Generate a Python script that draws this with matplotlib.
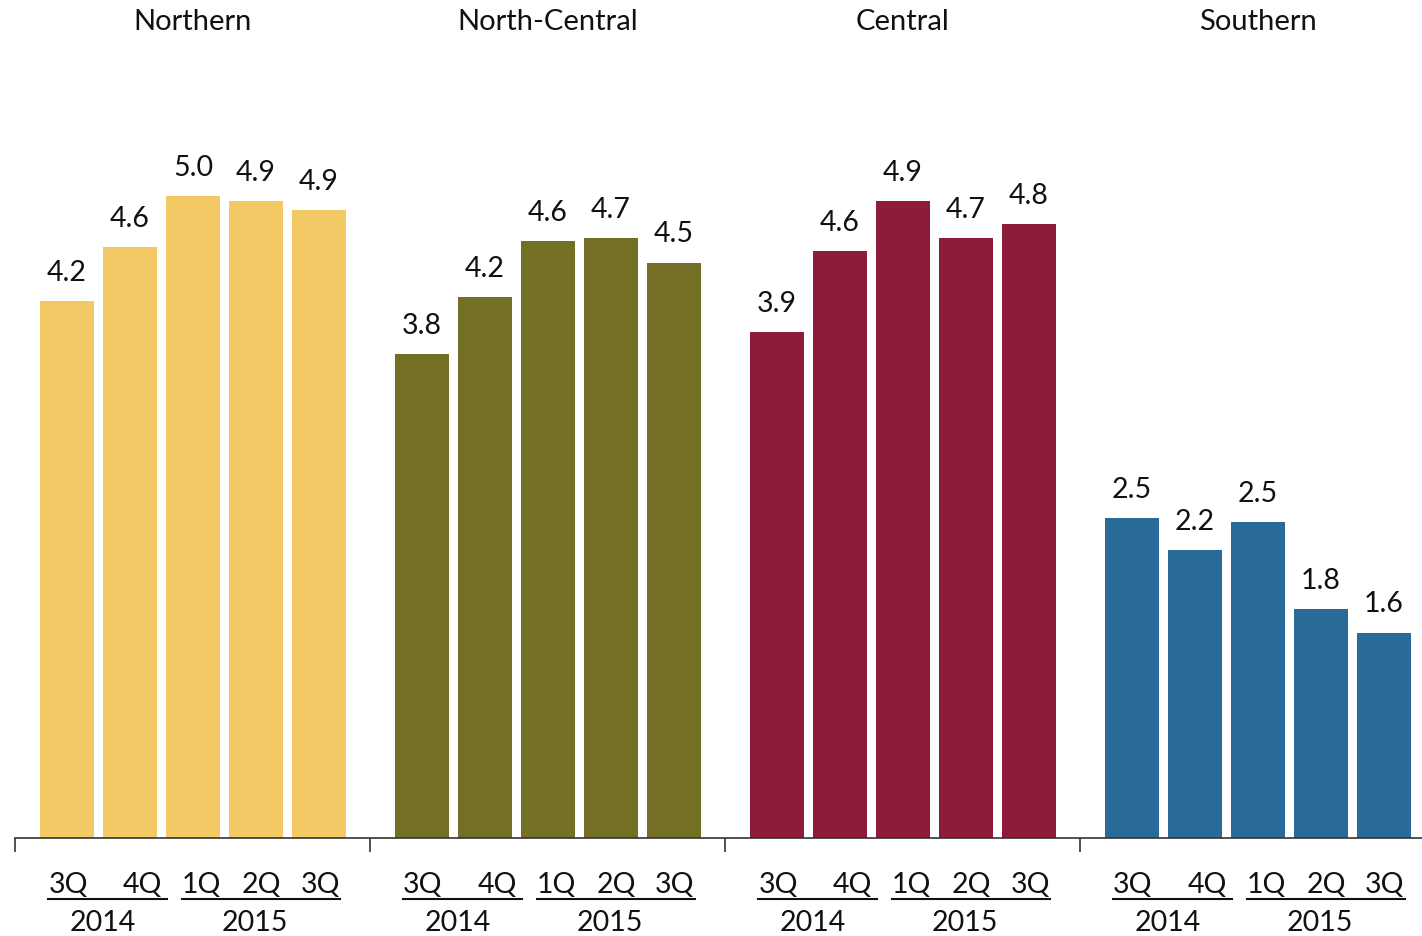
import numpy as np
import matplotlib.pyplot as plt

plt.rcParams['font.family'] = ['Lato', 'DejaVu Sans']

regions = ["Northern", "North-Central", "Central", "Southern"]
quarters = ["3Q", "4Q", "1Q", "2Q", "3Q"]
years = ["2014", "2015"]
# bar heights, with the printed labels
values = [
    [4.18, 4.60, 5.00, 4.96, 4.89],
    [3.77, 4.21, 4.65, 4.67, 4.48],
    [3.94, 4.57, 4.96, 4.67, 4.78],
    [2.49, 2.24, 2.46, 1.78, 1.60],
]
labels = [
    ["4.2", "4.6", "5.0", "4.9", "4.9"],
    ["3.8", "4.2", "4.6", "4.7", "4.5"],
    ["3.9", "4.6", "4.9", "4.7", "4.8"],
    ["2.5", "2.2", "2.5", "1.8", "1.6"],
]
colors = ["#F2C964", "#737025", "#8C1C3A", "#286B99"]

W, H = 1422, 936
fig = plt.figure(figsize=(W / 100, H / 100), dpi=100)
x0 = 15 / W
base = 838
ax = fig.add_axes([x0, (H - base) / H, 1 - x0, base / H])
gw = 355  # px per group
ax.set_xlim(0, (W - 15) / gw)
ax.set_ylim(0, base / 128.4)

slot = 63 / gw
bw = 54 / gw
first = 52 / gw
for g in range(4):
    xs = g + first + slot * np.arange(5)
    ax.bar(xs, values[g], width=bw, color=colors[g], linewidth=0)
    for x, v, lab in zip(xs, values[g], labels[g]):
        ax.text(x, v + 0.12, lab, ha='center', va='bottom', fontsize=20.5, color='#111111')
    ax.text(g + 0.5, (base - 22) / 128.4, regions[g], ha='center', va='center',
            fontsize=21, color='#111111')

for s in ['top', 'right', 'left']:
    ax.spines[s].set_visible(False)
ax.spines['bottom'].set_color('#333333')
ax.spines['bottom'].set_linewidth(1.2)
ax.set_yticks([])
ax.set_xticks([0, 1, 2, 3])
ax.set_xticklabels([])
ax.tick_params(axis='x', direction='out', length=10, width=1.2, color='#333333')

# quarter / year labels below the axis (figure coords)
q_off = np.array([53, 127, 186, 246, 305])
line_off = [(33, 152), (167, 325)]
year_off = [88, 240]
for g in range(4):
    gx = 15 + g * gw
    for q, o in zip(quarters, q_off):
        fig.text((gx + o) / W, 1 - 885 / H, q, ha='center', va='center', fontsize=20.5, color='#111111')
    for (a, b) in line_off:
        fig.add_artist(plt.Line2D([(gx + a) / W, (gx + b) / W], [1 - 899 / H] * 2,
                                  color='#111111', linewidth=1.5))
    for y, o in zip(years, year_off):
        fig.text((gx + o) / W, 1 - 923 / H, y, ha='center', va='center', fontsize=20.5, color='#111111')

fig.savefig("out.png", dpi=100)
